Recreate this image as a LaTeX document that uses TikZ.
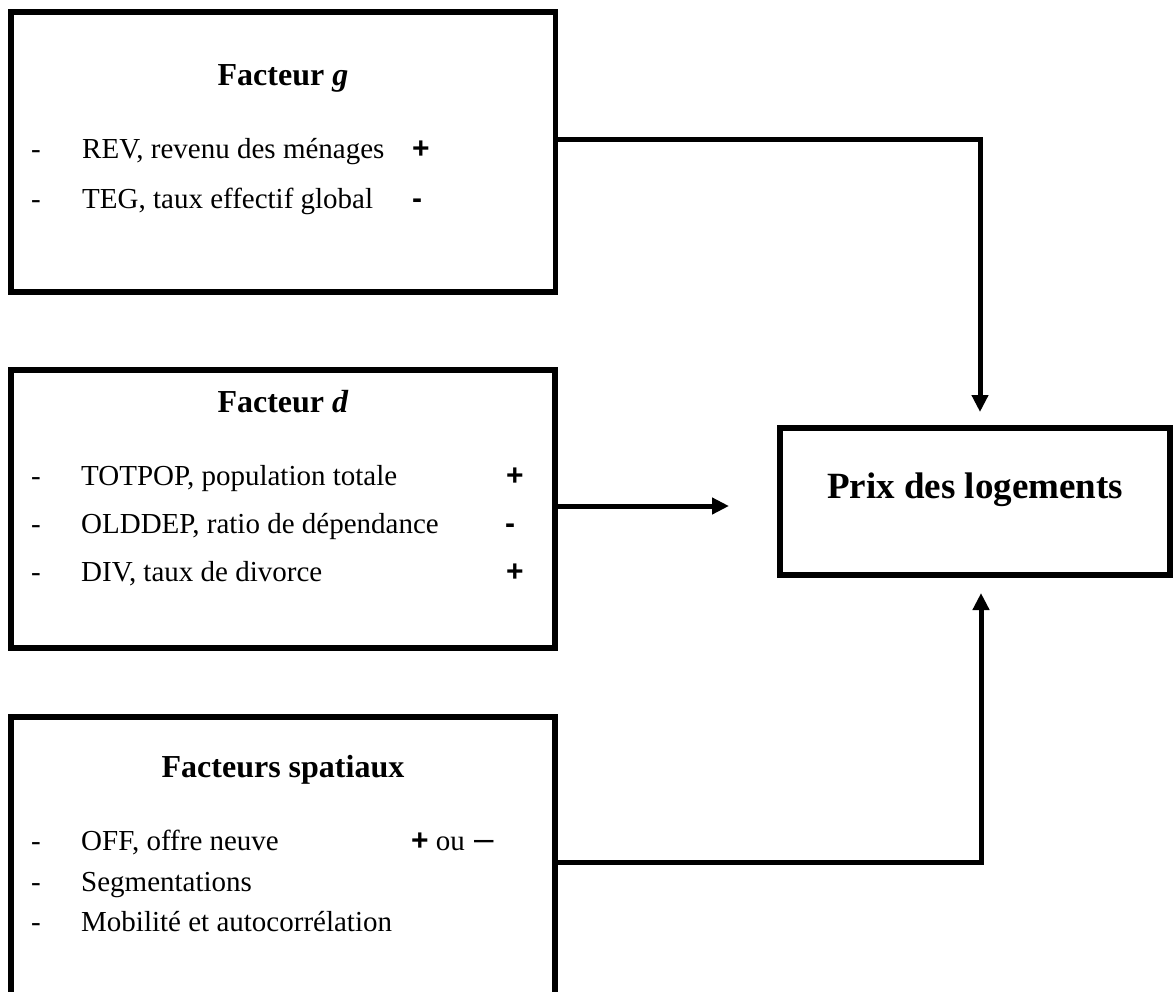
\documentclass[tikz,border=0pt]{standalone}
\usepackage{fontspec}
\setmainfont{Liberation Serif}
\newfontfamily\signf{Liberation Sans}
\usetikzlibrary{arrows.meta}
\tikzset{
  boxnode/.style={draw, line width=5.5pt, rectangle, inner sep=0pt, outer sep=0pt},
  conn/.style={line width=5pt, -{Triangle[length=17pt,width=16pt]}},
  itemtext/.style={inner sep=0pt, font=\fontsize{29}{34}\selectfont, anchor=base west},
  dashmark/.style={inner sep=0pt, font=\fontsize{29}{34}\selectfont, anchor=base},
  boxtitle/.style={inner sep=0pt, font=\fontsize{32}{38}\selectfont\bfseries, anchor=base},
  signmark/.style={inner sep=0pt, font=\fontsize{30}{36}\selectfont\signf\bfseries, anchor=base},
}
\begin{document}
\begin{tikzpicture}[x=1pt,y=-1pt]
\path[use as bounding box, clip] (0,0) rectangle (1173,991);

% boxes
\node[boxnode, minimum width=544.5pt, minimum height=280pt] (g) at (283.25,152) {};
\node[boxnode, minimum width=544pt, minimum height=278pt] (d) at (283,509) {};
\node[boxnode, minimum width=544pt, minimum height=300pt] (s) at (283,867) {};
\node[boxnode, minimum width=390pt, minimum height=147pt] (p) at (975,501.5) {};

% titles
\node[boxtitle] (gt) at (283,85) {Facteur \textit{g}};
\node[boxtitle] (dt) at (283,412) {Facteur \textit{d}};
\node[boxtitle] (st) at (283,777) {Facteurs spatiaux};
\node[inner sep=0pt, font=\fontsize{37}{44}\selectfont\bfseries, anchor=base] (pt) at (975,498) {Prix des logements};

% Facteur g items
\node[dashmark] (g1d) at (36,158.6) {-};
\node[itemtext] (g1) at (82,158.6) {REV, revenu des ménages};
\node[signmark] (g1s) at (421,158.6) {+};
\node[dashmark] (g2d) at (36,208.6) {-};
\node[itemtext] (g2) at (82,208.6) {TEG, taux effectif global};
\node[signmark] (g2s) at (417,208.6) {-};

% Facteur d items
\node[dashmark] (d1d) at (36,485.6) {-};
\node[itemtext] (d1) at (81,485.6) {TOTPOP, population totale};
\node[signmark] (d1s) at (515,485.6) {+};
\node[dashmark] (d2d) at (36,533.6) {-};
\node[itemtext] (d2) at (81,533.6) {OLDDEP, ratio de dépendance};
\node[signmark] (d2s) at (510,533.6) {-};
\node[dashmark] (d3d) at (36,581.6) {-};
\node[itemtext] (d3) at (81,581.6) {DIV, taux de divorce};
\node[signmark] (d3s) at (515,581.6) {+};

% Facteurs spatiaux items
\node[dashmark] (s1d) at (36,850.6) {-};
\node[itemtext] (s1) at (81,850.6) {OFF, offre neuve};
\node[itemtext] (s1s) at (411,850.6) {{\signf\bfseries\fontsize{30}{36}\selectfont +} ou\hspace{2pt} {\signf\fontsize{35}{40}\selectfont –}};
\node[dashmark] (s2d) at (36,891.6) {-};
\node[itemtext] (s2) at (81,891.6) {Segmentations};
\node[dashmark] (s3d) at (36,931.6) {-};
\node[itemtext] (s3) at (81,931.6) {Mobilité et autocorrélation};

% connectors
\coordinate (gTurn) at (980,139.5);
\coordinate (gTip) at (980,412);
\draw[conn] (g.east |- gTurn) -- (gTurn) -- (gTip);

\coordinate (dTip) at (729,506);
\draw[conn] (d.east |- dTip) -- (dTip);

\coordinate (sTurn) at (981,862);
\coordinate (sTip) at (981,593);
\draw[conn] (s.east |- sTurn) -- (sTurn) -- (sTip);
\end{tikzpicture}
\end{document}
